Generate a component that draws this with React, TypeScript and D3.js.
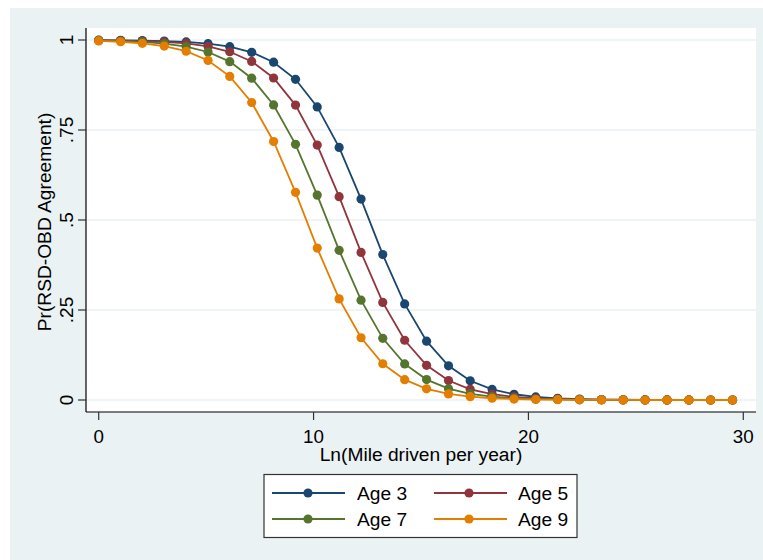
import React from "react";
import * as d3 from "d3";

const xValues = [0, 1.02, 2.03, 3.05, 4.07, 5.09, 6.1, 7.12, 8.14, 9.16, 10.17, 11.19, 12.21, 13.22, 14.24, 15.26, 16.28, 17.29, 18.31, 19.33, 20.34, 21.36, 22.38, 23.4, 24.41, 25.43, 26.45, 27.47, 28.48, 29.5];

const age3 = [0.9996, 0.9992, 0.9984, 0.9971, 0.9946, 0.9899, 0.9814, 0.9659, 0.9383, 0.8908, 0.8142, 0.7016, 0.558, 0.404, 0.2668, 0.1634, 0.0949, 0.0533, 0.0293, 0.016, 0.0086, 0.0047, 0.0025, 0.0013, 0.0007, 0.0004, 0.0002, 0.0001, 0.00006, 0.00003];
const age5 = [0.9992, 0.9985, 0.9972, 0.9948, 0.9904, 0.9822, 0.9673, 0.9405, 0.8944, 0.8192, 0.708, 0.5649, 0.41, 0.2711, 0.166, 0.0963, 0.054, 0.0296, 0.0161, 0.0087, 0.0047, 0.0025, 0.0013, 0.0007, 0.0004, 0.0002, 0.0001, 0.00006, 0.00003, 0.00002];
const age7 = [0.9984, 0.9971, 0.9946, 0.9901, 0.9818, 0.9667, 0.9399, 0.894, 0.8196, 0.7102, 0.5691, 0.4158, 0.2773, 0.1713, 0.1003, 0.0567, 0.0314, 0.0172, 0.0093, 0.005, 0.0027, 0.0015, 0.0008, 0.0004, 0.0002, 0.0001, 0.00007, 0.00004, 0.00002, 0.00001];
const age9 = [0.9974, 0.9951, 0.9909, 0.983, 0.9688, 0.9432, 0.8989, 0.8264, 0.7181, 0.5769, 0.4219, 0.2809, 0.1729, 0.1007, 0.0565, 0.0311, 0.0169, 0.0091, 0.0049, 0.0026, 0.0014, 0.0008, 0.0004, 0.0002, 0.0001, 0.00006, 0.00003, 0.00002, 0.00001, 0.00001];

const seriesNames = ["Age 3", "Age 5", "Age 7", "Age 9"];
const seriesValues = [age3, age5, age7, age9];
const seriesColors = ["#1a476f", "#90353b", "#55752f", "#e37e00"];

const xTicks = [0, 10, 20, 30];
const yTicks = [0, 0.25, 0.5, 0.75, 1];
const yTickLabels = ["0", ".25", ".5", ".75", "1"];

const W = 763;
const H = 560;
const FONT = "'Liberation Sans', Arial, Helvetica, sans-serif";

export default function App() {
  const plotL = 86, plotR = 756, plotT = 28, plotB = 412;
  const x = d3.scaleLinear().domain([0, 30]).range([98.7, 743.3]);
  const y = d3.scaleLinear().domain([0, 1]).range([400, 40]);
  const line = d3
    .line<number>()
    .x((_, i) => x(xValues[i]))
    .y((d) => y(d));

  const legendItems = seriesNames.map((name, k) => ({
    name,
    color: seriesColors[k],
    col: k % 2,
    row: Math.floor(k / 2),
  }));
  const legendCols = [
    { l0: 272, l1: 345, m: 308, t: 357 },
    { l0: 434, l1: 507, m: 469, t: 518 },
  ];
  const legendRows = [493, 519];

  return (
    <svg
      width={W}
      height={H}
      style={{ position: "absolute", left: 0, top: 0, display: "block" }}
      fontFamily={FONT}
    >
      <rect x={0} y={0} width={W} height={H} fill="#ffffff" />
      <rect x={10} y={8} width={W - 10} height={H - 8} fill="#eaf2f3" />
      <rect x={plotL} y={plotT} width={plotR - plotL} height={plotB - plotT} fill="#ffffff" />
      {yTicks.map((t) => (
        <line key={"g" + t} x1={plotL} x2={plotR} y1={y(t)} y2={y(t)} stroke="#eaf2f3" strokeWidth={1.6} />
      ))}
      <line x1={plotL} x2={plotL} y1={plotT} y2={plotB} stroke="#000" strokeWidth={1.2} />
      <line x1={plotL} x2={plotR} y1={plotB} y2={plotB} stroke="#000" strokeWidth={1.2} />
      {yTicks.map((t, i) => (
        <g key={"yt" + t}>
          <line x1={plotL - 8} x2={plotL} y1={y(t)} y2={y(t)} stroke="#333" strokeWidth={1.2} />
          <text
            transform={`translate(73,${y(t)}) rotate(-90)`}
            textAnchor="middle"
            fontSize={19}
            fill="#000"
          >
            {yTickLabels[i]}
          </text>
        </g>
      ))}
      {xTicks.map((t) => (
        <g key={"xt" + t}>
          <line x1={x(t)} x2={x(t)} y1={plotB} y2={plotB + 8} stroke="#333" strokeWidth={1.2} />
          <text x={x(t)} y={443} textAnchor="middle" fontSize={18.8} fill="#000">
            {t}
          </text>
        </g>
      ))}
      <text x={(plotL + plotR) / 2} y={460.5} textAnchor="middle" fontSize={19.2} fill="#000">
        Ln(Mile driven per year)
      </text>
      <text
        transform={`translate(50.5,${(plotT + plotB) / 2 + 2}) rotate(-90)`}
        textAnchor="middle"
        fontSize={19.2}
        fill="#000"
      >
        Pr(RSD-OBD Agreement)
      </text>
      {seriesValues.map((vals, k) => (
        <g key={"s" + k}>
          <path d={line(vals) || ""} fill="none" stroke={seriesColors[k]} strokeWidth={1.8} />
          {vals.map((v, i) => (
            <circle key={i} cx={x(xValues[i])} cy={y(v)} r={4.6} fill={seriesColors[k]} />
          ))}
        </g>
      ))}
      <rect x={264} y={474.5} width={313} height={63} fill="#ffffff" stroke="#333" strokeWidth={1.2} />
      {legendItems.map((it) => {
        const c = legendCols[it.col];
        const ry = legendRows[it.row];
        return (
          <g key={it.name}>
            <line x1={c.l0} x2={c.l1} y1={ry} y2={ry} stroke={it.color} strokeWidth={1.8} />
            <circle cx={c.m} cy={ry} r={4.6} fill={it.color} />
            <text x={c.t} y={ry + 7} fontSize={19.2} fill="#000">
              {it.name}
            </text>
          </g>
        );
      })}
    </svg>
  );
}
